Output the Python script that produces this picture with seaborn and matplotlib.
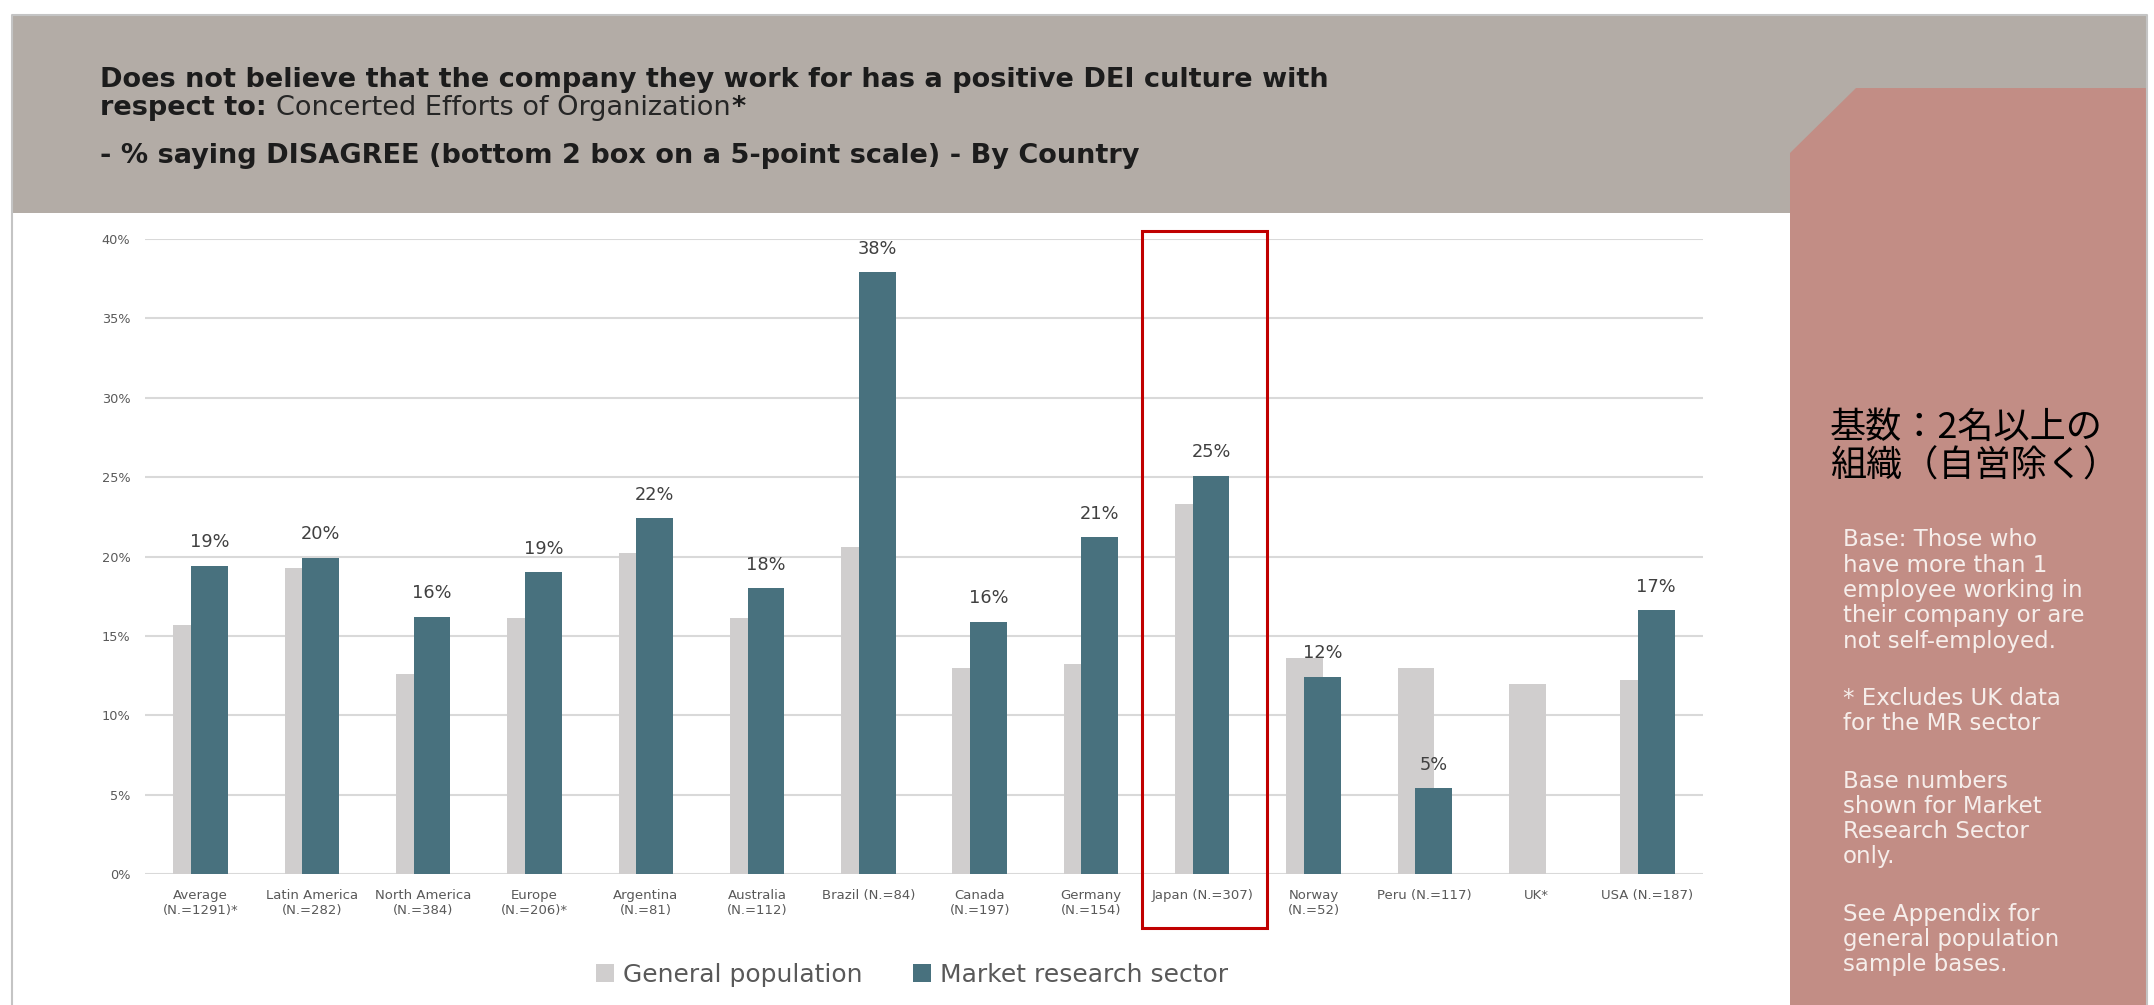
import numpy as np
import pandas as pd
import matplotlib
matplotlib.use("Agg")
import matplotlib.pyplot as plt
from matplotlib.patches import Rectangle, Polygon, Patch
import seaborn as sns

# ---- data -------------------------------------------------------------
countries = [
    "Average\n(N.=1291)*", "Latin America\n(N.=282)", "North America\n(N.=384)",
    "Europe\n(N.=206)*", "Argentina\n(N.=81)", "Australia\n(N.=112)",
    "Brazil (N.=84)", "Canada\n(N.=197)", "Germany\n(N.=154)",
    "Japan (N.=307)", "Norway\n(N.=52)", "Peru (N.=117)", "UK*", "USA (N.=187)",
]
general_population = [15.7, 19.3, 12.6, 16.1, 20.2, 16.1, 20.6, 13.0, 13.2, 23.3, 13.6, 13.0, 12.0, 12.2]
market_research = [19.4, 19.9, 16.2, 19.0, 22.4, 18.0, 37.9, 15.9, 21.2, 25.1, 12.4, 5.4, np.nan, 16.6]
series_names = ["General population", "Market research sector"]
y_ticks = [0, 5, 10, 15, 20, 25, 30, 35, 40]
highlight = "Japan (N.=307)"

title_line1 = "Does not believe that the company they work for has a positive DEI culture with"
title_line2_bold = "respect to:"
title_line2_regular = "Concerted Efforts of Organization"
title_line3 = "- % saying DISAGREE (bottom 2 box on a 5-point scale) - By Country"
side_heading = ["基数：2名以上の", "組織（自営除く）"]
side_notes = [
    ["Base: Those who", "have more than 1", "employee working in",
     "their company or are", "not self-employed."],
    ["* Excludes UK data", "for the MR sector"],
    ["Base numbers", "shown for Market", "Research Sector", "only."],
    ["See Appendix for", "general population", "sample bases."],
]

# ---- style ------------------------------------------------------------
GRAY_BAR = "#d0cece"
TEAL_BAR = "#48717e"
HEADER = "#b3aca6"
SIDE = "#c28d85"
TEXT_DARK = "#404040"
TEXT_MID = "#595959"

sns.set_style("white")
plt.rcParams["font.family"] = ["DejaVu Sans"]

W, H = 2154, 1005
fig = plt.figure(figsize=(W / 100, H / 100), dpi=100)
fig.patch.set_facecolor("white")


def fx(px):
    return px / W


def fy(py):
    return 1 - py / H


# header band, side panel and card outline
fig.add_artist(Rectangle((fx(12), fy(213)), fx(2146) - fx(12), fy(15) - fy(213),
                         transform=fig.transFigure, facecolor=HEADER,
                         edgecolor="none", zorder=0))
fig.add_artist(Polygon([(fx(1790), fy(1005)), (fx(1790), fy(153)), (fx(1856), fy(88)),
                        (fx(2146), fy(88)), (fx(2146), fy(1005))],
                       closed=True, transform=fig.transFigure, facecolor=SIDE,
                       edgecolor="none", zorder=0.5))
fig.add_artist(plt.Line2D([fx(12), fx(12), fx(2147), fx(2147)],
                          [fy(1005), fy(15), fy(15), fy(1005)],
                          transform=fig.transFigure, color="#c4c4c4", lw=1.5, zorder=1))

# ---- chart ------------------------------------------------------------
ax = fig.add_axes([fx(145), fy(874), fx(1703) - fx(145), fy(239) - fy(874)])
ax.set_facecolor("none")

idx = np.arange(len(countries))
offset = 0.08
bar_w = 0.33

gen_df = pd.DataFrame({"pos": idx - offset, "value": general_population})
mr_df = pd.DataFrame({"pos": idx + offset, "value": market_research}).dropna()

sns.barplot(data=gen_df, x="pos", y="value", native_scale=True, orient="x",
            width=bar_w, color=GRAY_BAR, saturation=1, errorbar=None,
            edgecolor="none", ax=ax, zorder=2)
sns.barplot(data=mr_df, x="pos", y="value", native_scale=True, orient="x",
            width=bar_w, color=TEAL_BAR, saturation=1, errorbar=None,
            edgecolor="none", ax=ax, zorder=3)

for pos, val in zip(mr_df["pos"], mr_df["value"]):
    ax.annotate(f"{int(round(val))}%", (pos, val), xytext=(0, 13.5),
                textcoords="offset points", ha="center", va="baseline",
                fontsize=12.8, color=TEXT_DARK, zorder=4)

ax.set_xlim(-0.5, len(countries) - 0.5)
ax.set_ylim(0, 40)
ax.set_yticks(y_ticks)
ax.set_yticklabels([f"{t}%" for t in y_ticks], fontsize=9.3, color=TEXT_MID)
ax.set_xticks(idx)
ax.set_xticklabels(countries, fontsize=9.5, color=TEXT_MID)
ax.tick_params(axis="y", length=0, pad=10.5)
ax.tick_params(axis="x", length=0, pad=11)
ax.set_xlabel("")
ax.set_ylabel("")
ax.yaxis.grid(True, color="#d9d9d9", lw=1.5)
ax.xaxis.grid(False)
ax.set_axisbelow(True)
for s in ax.spines.values():
    s.set_visible(False)

# outline around the highlighted market
hi = countries.index(highlight)
ax.add_patch(Rectangle((hi - 0.54, -3.4), 1.12, 43.9, fill=False,
                       edgecolor="#c00000", lw=2.2, clip_on=False, zorder=5))

# legend
handles = [Patch(facecolor=GRAY_BAR, edgecolor="none"),
           Patch(facecolor=TEAL_BAR, edgecolor="none")]
fig.legend(handles, series_names, loc="center", bbox_to_anchor=(fx(912), fy(975)),
           ncol=2, frameon=False, fontsize=18, handlelength=0.75, handleheight=0.75,
           handletextpad=0.35, columnspacing=2.0, labelcolor=TEXT_MID)

# ---- header text --------------------------------------------------------
renderer = fig.canvas.get_renderer()
TITLE_SIZE = 19.5
fig.text(fx(100), fy(87), title_line1, fontsize=TITLE_SIZE, fontweight="bold",
         color="#1c1c1c", va="baseline", zorder=3)
t_bold = fig.text(fx(100), fy(115), title_line2_bold, fontsize=TITLE_SIZE,
                  fontweight="bold", color="#1c1c1c", va="baseline", zorder=3)
bb = t_bold.get_window_extent(renderer)
t_reg = fig.text((bb.x1 + 9) / W, fy(115), title_line2_regular, fontsize=TITLE_SIZE,
                 color="#262626", va="baseline", zorder=3)
bb2 = t_reg.get_window_extent(renderer)
fig.text((bb2.x1 + 1) / W, fy(115), "*", fontsize=TITLE_SIZE, fontweight="bold",
         color="#1c1c1c", va="baseline", zorder=3)
fig.text(fx(100), fy(163), title_line3, fontsize=TITLE_SIZE, fontweight="bold",
         color="#1c1c1c", va="baseline", zorder=3)

# ---- side panel text ----------------------------------------------------
for line, yc in zip(side_heading, [428, 467]):
    fig.text(fx(1830), fy(yc), line, fontsize=26,
             family=["Noto Sans CJK JP", "DejaVu Sans"], color="black",
             va="center", zorder=3)

pitch = 25.3
y = 540
for para in side_notes:
    for line in para:
        fig.text(fx(1843), fy(y), line, fontsize=16.5, color="#f6eeeb",
                 va="center", zorder=3)
        y += pitch
    y += 32

fig.savefig("out.png", dpi=100)
